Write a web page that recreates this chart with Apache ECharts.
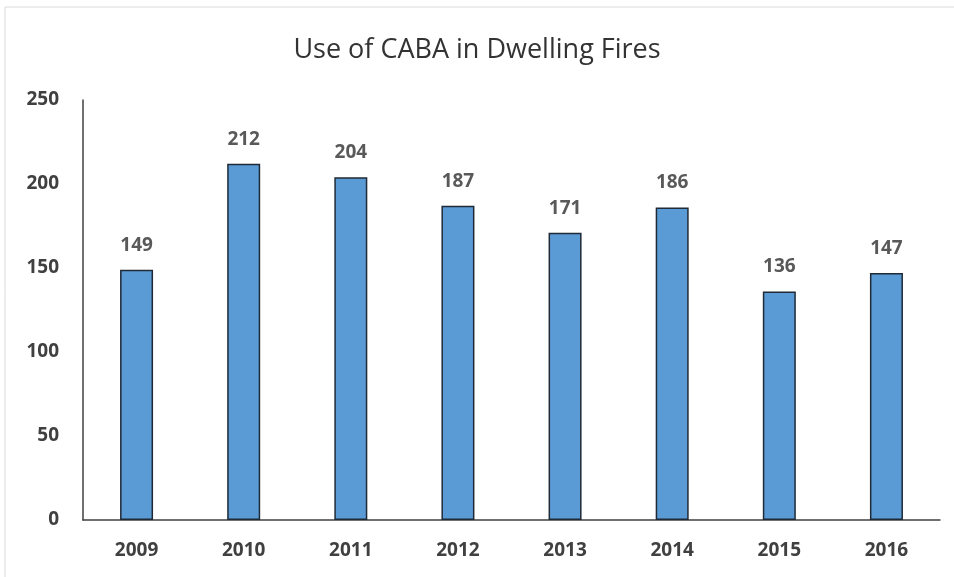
<!DOCTYPE html>
<html>
<head>
<meta charset="utf-8">
<script src="https://cdn.jsdelivr.net/npm/echarts@6/dist/echarts.min.js"></script>
<style>
  html, body { margin: 0; padding: 0; background: #fff; }
  #main { width: 954px; height: 577px; }
</style>
</head>
<body>
<div id="main"></div>
<script>
var years = ['2009', '2010', '2011', '2012', '2013', '2014', '2015', '2016'];
var fires = [149, 212, 204, 187, 171, 186, 136, 147];
var yTicks = [0, 50, 100, 150, 200, 250];

var myChart = echarts.init(document.getElementById('main'));

var option = {
    backgroundColor: '#fff',
    textStyle: { fontFamily: 'Open Sans' },
    title: {
        text: 'Use of CABA in Dwelling Fires',
        left: 'center',
        top: 32,
        textStyle: { fontSize: 27, fontWeight: 'normal', color: '#333', fontFamily: 'Open Sans' }
    },
    graphic: [{
        type: 'rect',
        shape: { x: 5, y: 7, width: 1000, height: 700 },
        style: { fill: 'none', stroke: '#d9d9d9', lineWidth: 1 },
        silent: true
    }],
    grid: { left: 83, right: 14, top: 100, bottom: 57 },
    xAxis: {
        type: 'category',
        data: years,
        axisLine: { lineStyle: { color: '#404040', width: 1.5 } },
        axisTick: { show: false },
        axisLabel: { color: '#404040', fontSize: 19, fontWeight: 'bold', margin: 21 }
    },
    yAxis: {
        type: 'value',
        min: yTicks[0],
        max: yTicks[yTicks.length - 1],
        interval: 50,
        splitLine: { show: false },
        axisLine: { show: true, lineStyle: { color: '#404040', width: 1.5 } },
        axisTick: { show: false },
        axisLabel: { color: '#404040', fontSize: 19, fontWeight: 'bold', margin: 24 }
    },
    series: [{
        type: 'bar',
        data: fires,
        barWidth: 33,
        itemStyle: { color: '#5B9BD5', borderColor: '#1f2a36', borderWidth: 1.5 },
        label: {
            show: true,
            position: 'top',
            distance: 15,
            color: '#595959',
            fontSize: 19,
            fontWeight: 'bold'
        }
    }]
};

myChart.setOption(option);
</script>
</body>
</html>
